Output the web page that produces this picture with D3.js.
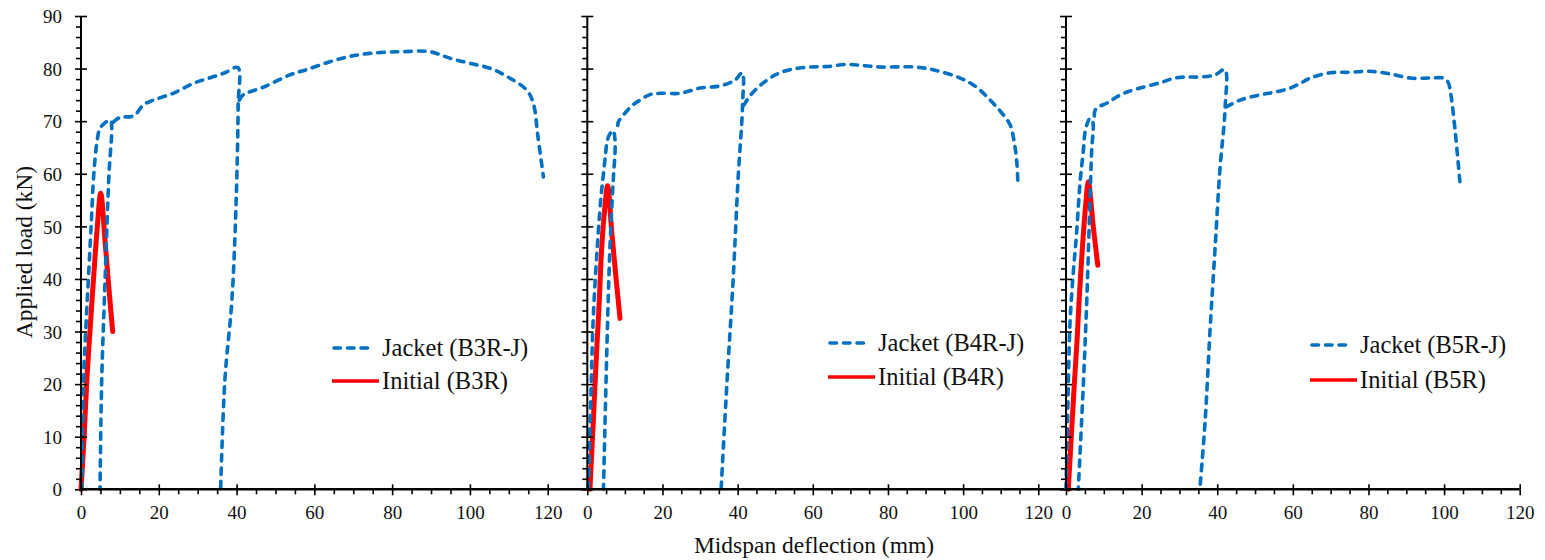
<!DOCTYPE html>
<html>
<head>
<meta charset="utf-8">
<script src="https://cdn.jsdelivr.net/npm/d3@7"></script>
<style>
  html, body { margin: 0; padding: 0; background: #fff; }
  svg { display: block; }
</style>
</head>
<body>
<svg id="chart" width="1545" height="560"></svg>
<script>
// ---------- data ----------
const xMajorTicks = [0, 20, 40, 60, 80, 100, 120];
const yMajorTicks = [0, 10, 20, 30, 40, 50, 60, 70, 80, 90];
const jacketNames = ["Jacket (B3R-J)", "Jacket (B4R-J)", "Jacket (B5R-J)"];
const initialNames = ["Initial (B3R)", "Initial (B4R)", "Initial (B5R)"];
const xTitle = "Midspan deflection (mm)";
const yTitle = "Applied load (kN)";

// [deflection mm, load kN]; null = break in the recorded curve (reload retraces the unload path)
const jacketB3 = [
  [0.2,0],[0.6,20],[1.2,30],[1.9,40],[2.6,50],[3.3,60],[4.1,66],[4.8,68.5],[6,69.6],[7.6,70.2],
  [7.9,69],[7.2,60],[6.2,40],[5.3,20],[4.9,0],
  null,
  [8.3,69.8],[10,70.7],[13,70.9],[14.3,71.5],[16,73.1],[18.6,74],
  [23.7,75.3],[28.9,77.2],[33,78.2],[37,79.2],[40.3,80.2],
  [40.4,73],[39.9,55],[38.8,36],[37,20.8],[35.9,0],
  null,
  [40.7,74],[41.7,75],[47,76.5],[53.7,78.8],[58,79.8],
  [64,81.3],[69,82.3],[74.3,82.9],[82,83.2],[89.7,83.2],[94.9,81.95],[100,81],[105.2,80.05],
  [110,78.3],[114.6,75.9],[116.3,73.4],[117.5,67],[118.9,59.4]
];
const initialB3 = [[0,0],[0.8,10],[1.5,20.8],[2.3,30],[3.2,39.8],[4.1,49],[5.07,56.3],[6.2,47],[7.2,38],[8.15,30]];

const jacketB4 = [
  [0.3,0],[0.9,16],[1.6,32.8],[2.9,48.7],[3.7,56],[4.3,60],[4.9,64],[5.3,66.3],[6.2,67.8],[6.9,68.2],
  [7.3,67],[7.4,64.5],[6.9,58.8],[6.0,45.5],[5.2,26.5],[4.3,0],
  null,
  [8.1,69.2],[8.3,69.9],[10,71.5],[12,73],[14,74],
  [16.5,75],[19.3,75.3],[24.7,75.3],[30,76.3],[35.3,76.7],[39.3,77.8],[41.2,79.2],
  [41.3,73],[40.1,58.8],[38.8,39.8],[37.2,20.8],[35.6,0],
  null,
  [41.6,73],[43.5,75],[46,76.8],[50,78.8],[54,79.8],
  [59.3,80.3],[64,80.4],[69,80.8],[73,80.6],[77.9,80.3],[87.2,80.3],[92.5,79.7],[99.2,78.2],
  [103.5,76.5],[107.2,74],[110,71.8],[112.5,69.3],[113.6,66],[114.3,62],[114.6,57.5]
];
const initialB4 = [[0.7,0],[1.6,13],[2.5,26.5],[3.2,36],[3.8,45.5],[4.6,53],[5.4,57.7],[6.5,49],[7.6,40.5],[8.7,32.5]];

const jacketB5 = [
  [0,0],[0.5,16],[1.06,31.6],[1.9,41],[2.8,48.7],[3.7,58.2],[4.6,64.5],[5.0,67.7],[5.6,69.5],[6.3,70.5],[6.9,70.2],
  [7.2,69.3],[6.8,64.5],[5.5,36],[4.6,20.2],[3.25,0],
  null,
  [7.5,71],[7.7,72.1],[8.6,72.7],[11,73.5],[13.4,74.6],[16,75.5],
  [19.6,76.3],[24.9,77.3],[28.8,78.2],[32,78.4],[35.4,78.4],[39.4,78.8],[42,79.8],
  [42.1,72.7],[40.7,60.7],[39.4,45.5],[38.1,30.3],[36.8,13],[35.4,0],
  null,
  [42.4,72.7],[46,74],[51.3,75],[55,75.5],
  [59.3,76.3],[62,77.2],[64.6,78.2],[69.8,79.2],[75.1,79.3],[80.4,79.5],[85.7,79],[91,78.2],
  [96.3,78.2],[99.7,78.2],[101,77.5],[101.8,75],[102.9,68.3],[104.2,58.3]
];
const initialB5 = [[0.6,0],[1.4,10],[2.2,20],[2.9,28],[3.4,35],[4.3,45.5],[5.2,54],[5.9,58.5],[7.2,50],[8.4,42.6]];

const jacketSeries = [jacketB3, jacketB4, jacketB5];
const initialSeries = [initialB3, initialB4, initialB5];

// ---------- layout ----------
const FONT = "'Liberation Serif', 'Times New Roman', serif";
const panels = [
  { x0: 81,    x120: 547.7,  xEnd: 587.3, legX: 332,  legY1: 348, legY2: 381 },
  { x0: 587.3, x120: 1038.3, xEnd: 1066,  legX: 828,  legY1: 343, legY2: 377 },
  { x0: 1066,  x120: 1519.7, xEnd: 1519.7, legX: 1310, legY1: 345, legY2: 380 }
];
const blue = "#0070C0", red = "#FF0000";

const svg = d3.select("#chart");
const y = d3.scaleLinear().domain([0, 90]).range([489.3, 16]);
const minorY = d3.range(0, 91, 2).filter(v => v % 10 !== 0);
const minorX = d3.range(0, 121, 5).filter(v => v % 20 !== 0);

panels.forEach((p, i) => {
  const x = d3.scaleLinear().domain([0, 120]).range([p.x0, p.x120]);
  const g = svg.append("g");

  // series
  const line = d3.line().defined(d => d !== null)
    .x(d => x(d[0])).y(d => y(d[1])).curve(d3.curveCatmullRom.alpha(0.5));
  g.append("path").datum(initialSeries[i]).attr("d", line)
    .attr("fill", "none").attr("stroke", red).attr("stroke-width", 5)
    .attr("stroke-linejoin", "round").attr("stroke-linecap", "round");
  g.append("path").datum(jacketSeries[i]).attr("d", line)
    .attr("fill", "none").attr("stroke", blue).attr("stroke-width", 3.6)
    .attr("stroke-dasharray", "6.5,7").attr("stroke-linecap", "round").attr("stroke-linejoin", "round");

  // x axis
  const xg = g.append("g").attr("transform", `translate(0,${y(0)})`);
  xg.append("g").call(d3.axisBottom(x).tickValues(minorX).tickSize(5).tickFormat(""))
    .call(s => s.select(".domain").remove());
  const xa = xg.append("g").call(d3.axisBottom(x).tickValues(xMajorTicks).tickSize(6).tickFormat(d3.format("d")));
  xa.select(".domain").remove();
  xa.selectAll(".tick text").attr("y", 0).attr("dy", 0).attr("transform", "translate(0,30)")
    .style("font-size", "19px").style("font-family", FONT).attr("fill", "#111");
  xg.append("g").call(d3.axisTop(x).tickValues(xMajorTicks).tickSize(5).tickFormat(""))
    .call(s => s.select(".domain").remove());
  xg.selectAll(".tick line").attr("stroke", "#000").attr("stroke-width", 1.6);
  xg.append("line").attr("x1", p.x0).attr("x2", p.xEnd).attr("y1", 0).attr("y2", 0)
    .attr("stroke", "#000").attr("stroke-width", 2.6);

  // y axis
  const yg = g.append("g").attr("transform", `translate(${p.x0},0)`);
  yg.append("g").call(d3.axisLeft(y).tickValues(minorY).tickSize(5).tickFormat(""))
    .call(s => s.select(".domain").remove());
  const ya = yg.append("g").call(d3.axisLeft(y).tickValues(yMajorTicks).tickSize(6)
    .tickFormat(i === 0 ? d3.format("d") : ""));
  ya.select(".domain").remove();
  ya.selectAll(".tick text").attr("x", -19).attr("dy", "0.35em")
    .style("font-size", "19px").style("font-family", FONT).attr("fill", "#111");
  yg.append("g").call(d3.axisRight(y).tickValues(yMajorTicks).tickSize(6).tickFormat(""))
    .call(s => s.select(".domain").remove());
  yg.selectAll(".tick line").attr("stroke", "#000").attr("stroke-width", 1.6);
  yg.append("line").attr("x1", 0).attr("x2", 0).attr("y1", y(0)).attr("y2", y(90))
    .attr("stroke", "#000").attr("stroke-width", 2);

  // legend
  const lg = g.append("g");
  lg.append("line").attr("x1", p.legX + 2).attr("x2", p.legX + 41).attr("y1", p.legY1).attr("y2", p.legY1)
    .attr("stroke", blue).attr("stroke-width", 3.6).attr("stroke-dasharray", "6.5,7").attr("stroke-linecap", "round");
  lg.append("line").attr("x1", p.legX).attr("x2", p.legX + 47).attr("y1", p.legY2).attr("y2", p.legY2)
    .attr("stroke", red).attr("stroke-width", 3.6);
  lg.append("text").attr("x", p.legX + 50).attr("y", p.legY1).attr("dy", "0.33em")
    .style("font-family", FONT).style("font-size", "24.5px").attr("fill", "#111").text(jacketNames[i]);
  lg.append("text").attr("x", p.legX + 50).attr("y", p.legY2).attr("dy", "0.33em")
    .style("font-family", FONT).style("font-size", "24.5px").attr("fill", "#111").text(initialNames[i]);
});

// axis titles
svg.append("text").attr("x", 814).attr("y", 553).attr("text-anchor", "middle")
  .style("font-family", FONT).style("font-size", "23.5px").attr("fill", "#111").text(xTitle);
svg.append("text").attr("transform", "translate(32,252) rotate(-90)").attr("text-anchor", "middle")
  .style("font-family", FONT).style("font-size", "23.5px").attr("fill", "#111").text(yTitle);
</script>
</body>
</html>
